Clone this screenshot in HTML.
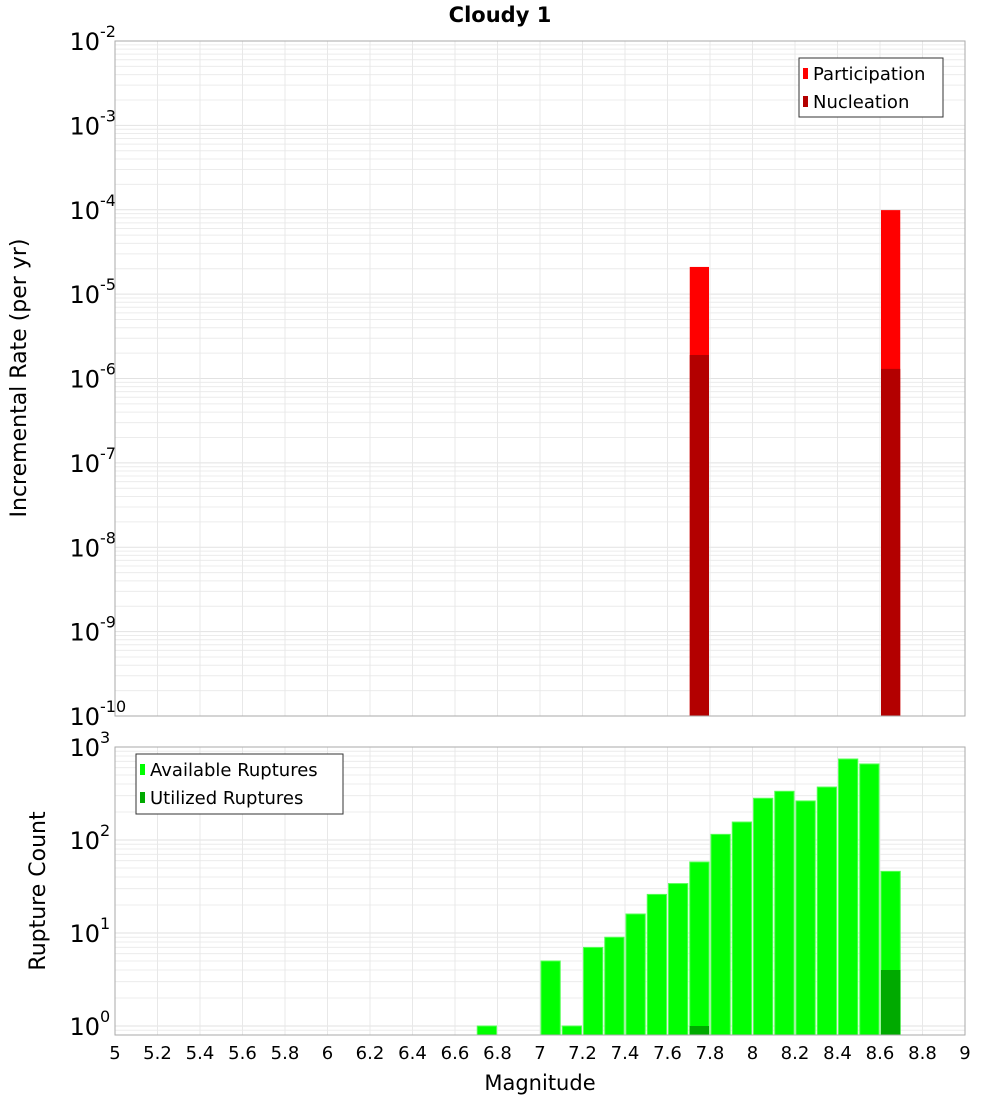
<!DOCTYPE html>
<html><head><meta charset="utf-8"><style>
body{margin:0;background:#fff;}
svg{display:block;font-family:"DejaVu Sans","Liberation Sans",sans-serif;}
</style></head><body>
<svg id="c" width="1000" height="1100" xmlns="http://www.w3.org/2000/svg">
<text x="500" y="22" text-anchor="middle" font-size="21" font-weight="bold">Cloudy 1</text>
<text transform="translate(26,378) rotate(-90)" text-anchor="middle" font-size="22">Incremental Rate (per yr)</text>
<text transform="translate(45,891) rotate(-90)" text-anchor="middle" font-size="22">Rupture Count</text>
<text x="540" y="1090" text-anchor="middle" font-size="21">Magnitude</text>
<g id="g"></g>
</svg>
<script>
const partMags=[7.75,8.65];
const partVals=[2.1e-5,9.9e-5];
const nuclMags=[7.75,8.65];
const nuclVals=[1.9e-6,1.3e-6];
const availMags=[6.75,7.05,7.15,7.25,7.35,7.45,7.55,7.65,7.75,7.85,7.95,8.05,8.15,8.25,8.35,8.45,8.55,8.65];
const availVals=[1,5,1,7,9,16,26,34,58,115,156,281,334,263,371,743,657,46];
const utilMags=[7.75,8.65];
const utilVals=[1,4];
const xTicks=[5,5.2,5.4,5.6,5.8,6,6.2,6.4,6.6,6.8,7,7.2,7.4,7.6,7.8,8,8.2,8.4,8.6,8.8,9];
const topExps=[-10,-9,-8,-7,-6,-5,-4,-3,-2];
const botExps=[0,1,2,3];

const NS="http://www.w3.org/2000/svg";
const g=document.getElementById('g');
function mk(t,a,p){const e=document.createElementNS(NS,t);for(const k in a)e.setAttribute(k,a[k]);(p||g).appendChild(e);return e;}
const X0=115,X1=965;
const xs=m=>X0+(m-5)/4*(X1-X0);
const T={top:41,bot:716,lo:-10,hi:-2};
const B={top:747,bot:1035,y1:1026,ppd:93};
const ty=v=>T.bot-(Math.log10(v)-T.lo)/(T.hi-T.lo)*(T.bot-T.top);
const by=v=>B.y1-Math.log10(v)*B.ppd;

function grid(P,yf,exps,lowV,highV){
  for(let e=exps[0]-1;e<=exps[exps.length-1];e++){
    for(let k=1;k<10;k++){const v=k*Math.pow(10,e);const y=yf(v);
      if(y<P.top-0.5||y>P.bot+0.5)continue;
      const l=mk('line',{x1:X0,x2:X1,y1:y,y2:y,stroke:k==1?'#e2e2e2':'#ececec','stroke-width':1});
      
      }
  }
  xTicks.forEach(t=>{const l=mk('line',{x1:xs(t),x2:xs(t),y1:P.top,y2:P.bot,stroke:'#e8e8e8','stroke-width':1});
    
    });
}
grid(T,ty,topExps);
grid(B,by,botExps);

function ylabels(yf,exps,name){
  exps.forEach(e=>{const y=yf(Math.pow(10,e));
    const t=mk('text',{x:100,y:y+9,'text-anchor':'end','font-size':24});t.textContent='10';
    
    
    const s=mk('text',{x:100,y:y-4,'font-size':16});s.textContent=String(e);
    
    });
}
ylabels(ty,topExps,'top-y-tick-label');
ylabels(by,botExps,'bottom-y-tick-label');

function bars(mags,vals,yf,base,col,name,stroke){
  mags.forEach((m,i)=>{const y=Math.max(yf(vals[i]),0);const x=xs(m-0.05)+1,w=xs(m+0.05)-xs(m-0.05)-2;
    const r=mk('rect',{x:x,y:y,width:w,height:base-y,fill:col});
    if(stroke){r.setAttribute('stroke',stroke);r.setAttribute('stroke-width',1);}
    
    });
}
bars(partMags,partVals,ty,T.bot,'#ff0000','participation-bar');
bars(nuclMags,nuclVals,ty,T.bot,'#b30000','nucleation-bar');
bars(availMags,availVals,by,B.bot,'#00ff00','available-ruptures-bar','#55ff55');
bars(utilMags,utilVals,by,B.bot,'#00aa00','utilized-ruptures-bar');

[[T],[B]].forEach(([P],i)=>{const r=mk('rect',{x:X0,y:P.top,width:X1-X0,height:P.bot-P.top,fill:'none',stroke:'#aaaaaa','stroke-width':1});
  
  });

xTicks.forEach(t=>{const e=mk('text',{x:xs(t),y:1059,'text-anchor':'middle','font-size':18});e.textContent=String(t);
  
  });

function legend(x,y,w,h,items,name){
  const lg=mk('g',{});
  
  
  mk('rect',{x:x,y:y,width:w,height:h,fill:'#fff',stroke:'#333','stroke-width':1},lg);
  items.forEach((it,i)=>{const yy=y+15+i*28;
    mk('rect',{x:x+4,y:yy-5,width:5,height:11,fill:it[1]},lg);
    const t=mk('text',{x:x+14,y:yy+7,'font-size':18},lg);t.textContent=it[0];
    
    });
}
legend(799,58,144,59,[['Participation','#ff0000'],['Nucleation','#b30000']],'top-legend');
legend(136,754,207,60,[['Available Ruptures','#00ff00'],['Utilized Ruptures','#00aa00']],'bottom-legend');
</script>
</body></html>
